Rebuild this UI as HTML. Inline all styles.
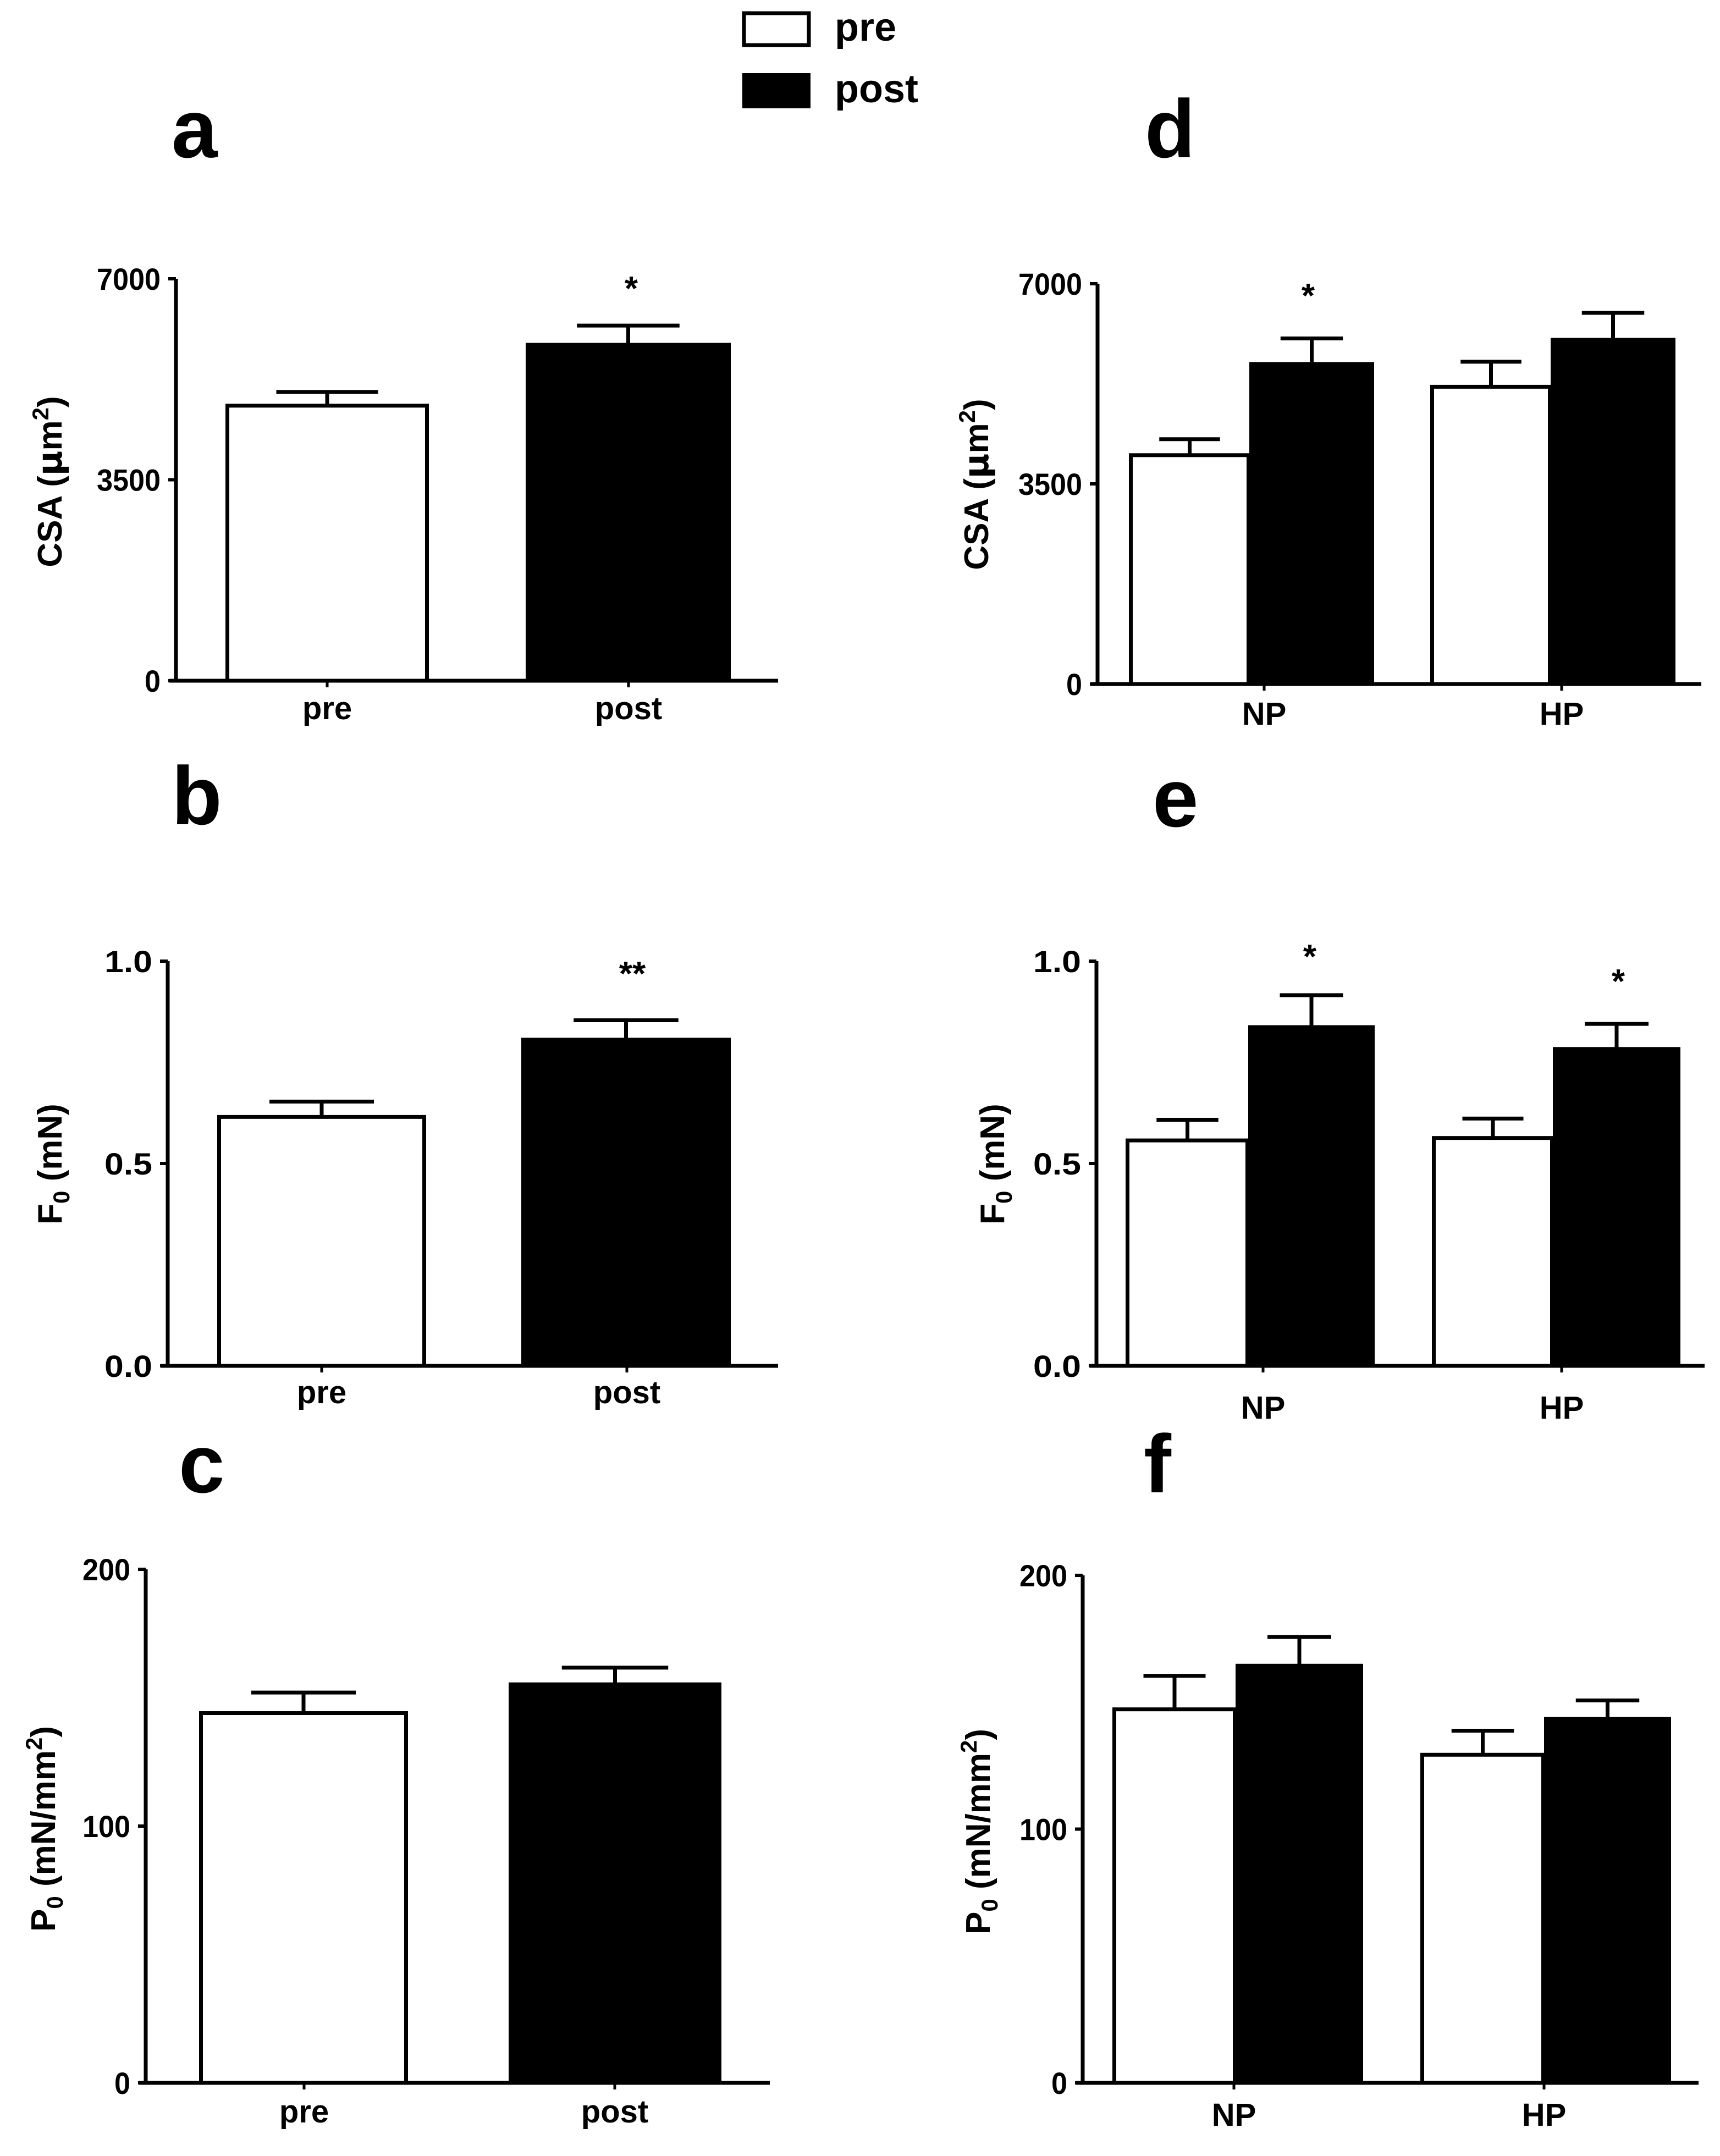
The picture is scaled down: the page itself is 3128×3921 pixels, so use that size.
<!DOCTYPE html>
<html><head><meta charset="utf-8"><style>
html,body{margin:0;padding:0;background:#fff}
svg{display:block}
text{font-family:"Liberation Sans",sans-serif;font-weight:bold;fill:#000}
</style></head><body>
<svg id="fig" width="3128" height="3921" viewBox="0 0 3128 3921" xmlns="http://www.w3.org/2000/svg">
<g>
<rect x="1353" y="24" width="118" height="58" fill="#fff" stroke="#000" stroke-width="7"/>
<text x="1518" y="74" font-size="72">pre</text>
<rect x="1350" y="133" width="124" height="64" fill="#000"/>
<text x="1518" y="186" font-size="72">post</text>
</g>
</svg>
<script>
// Panel a
const aCats=["pre","post"];
const aPre=[4790]; const aPreErr=[240];
const aPost=[5850]; const aPostErr=[335];
const aTicks=[0,3500,7000];
// Panel b
const bCats=["pre","post"];
const bPre=[0.615]; const bPreErr=[0.038];
const bPost=[0.806]; const bPostErr=[0.048];
const bTicks=[0.0,0.5,1.0];
// Panel c
const cCats=["pre","post"];
const cPre=[144.0]; const cPreErr=[8.0];
const cPost=[155.2]; const cPostErr=[6.5];
const cTicks=[0,100,200];
// Panel d
const dCats=["NP","HP"];
const dPre=[4002,5198]; const dPreErr=[279,438];
const dPost=[5597,6019]; const dPostErr=[446,471];
const dTicks=[0,3500,7000];
// Panel e
const eCats=["NP","HP"];
const ePre=[0.557,0.563]; const ePreErr=[0.051,0.048];
const ePost=[0.837,0.783]; const ePostErr=[0.079,0.062];
const eTicks=[0.0,0.5,1.0];
// Panel f
const fCats=["NP","HP"];
const fPre=[147.2,129.3]; const fPreErr=[13.2,9.5];
const fPost=[164.4,143.4]; const fPostErr=[11.3,7.3];
const fTicks=[0,100,200];

const NS="http://www.w3.org/2000/svg";
const svg=document.getElementById('fig');
function mk(tag,attrs,parent){const e=document.createElementNS(NS,tag);for(const k in attrs)e.setAttribute(k,attrs[k]);(parent||svg).appendChild(e);return e;}

function panel(cfg){
  const g=mk('g',{});
  
  
  const yS=v=>cfg.y0-(v-cfg.tMin)/(cfg.tMax-cfg.tMin)*(cfg.y0-cfg.yTop);
  const L=mk('text',{x:cfg.lx,y:cfg.ly,'font-size':150},g);L.textContent=cfg.id;
  
  
  for(let i=0;i<cfg.bars.length;i++){
    const series=[[cfg.pre,cfg.preErr,'#fff','pre'],[cfg.post,cfg.postErr,'#000','post']];
    series.forEach((s,j)=>{
      const x0=cfg.bars[i][j][0],x1=cfg.bars[i][j][1];
      const v=s[0][i],er=s[1][i];
      const top=yS(v),et=yS(v+er),cx=(x0+x1)/2,cw=(x1-x0)*0.5;
      const eb=mk('path',{d:`M${cx},${top} V${et} M${cx-cw/2},${et} H${cx+cw/2}`,stroke:'#000','stroke-width':7,fill:'none'},g);
      
      
      const r=mk('rect',{x:x0+3.5,y:top,width:x1-x0-7,height:cfg.y0-top,fill:s[2],stroke:'#000','stroke-width':7},g);
      
      
    });
  }
  for(let i=0;i<cfg.cats.length;i++){
    const lbl=mk('text',{x:cfg.catX[i],y:cfg.catY,'font-size':58,'text-anchor':'middle'},g);
    lbl.textContent=cfg.cats[i];
    
    
    const ct=mk('line',{x1:cfg.catX[i],x2:cfg.catX[i],y1:cfg.y0,y2:cfg.y0+12,stroke:'#000','stroke-width':5},g);
    
    
  }
  const ya=mk('line',{x1:cfg.ax,x2:cfg.ax,y1:cfg.yTop,y2:cfg.y0+3,stroke:'#000','stroke-width':7},g);
  
  
  const xa=mk('line',{x1:cfg.ax-12,x2:cfg.xEnd,y1:cfg.y0,y2:cfg.y0,stroke:'#000','stroke-width':7},g);
  
  
  cfg.ticks.forEach(t=>{
    const y=yS(t);
    const tk=mk('line',{x1:cfg.ax-14,x2:cfg.ax,y1:y,y2:y,stroke:'#000','stroke-width':6},g);
    
    
    const s=cfg.fmt(t);
    const tl=mk('text',{x:cfg.ax-28,y:y+20,'font-size':56,'text-anchor':'end',textLength:s.length*29,lengthAdjust:'spacingAndGlyphs'},g);
    tl.textContent=s;
    
    
  });
  const tt=mk('text',{x:0,y:0,'font-size':62,'text-anchor':'middle',transform:`translate(${cfg.tx},${cfg.ty}) rotate(-90)`},g);
  tt.innerHTML=cfg.title;
  
  
  (cfg.stars||[]).forEach(st=>{
    const s=mk('text',{x:st[0],y:st[1]+28,'font-size':62,'text-anchor':'middle'},g);
    s.textContent=st[2];
    
    
  });
}
const f0=t=>String(t), f1=t=>t.toFixed(1);
const csa='CSA (<tspan font-family="DejaVu Sans">μ</tspan>m<tspan font-size="42" dy="-24">2</tspan><tspan dy="24">)</tspan>';
const fmn='F<tspan font-size="42" dy="14">0</tspan><tspan dy="-14"> (mN)</tspan>';
const pmn='P<tspan font-size="42" dy="14">0</tspan><tspan dy="-14"> (mN/mm</tspan><tspan font-size="42" dy="-24">2</tspan><tspan dy="24">)</tspan>';

panel({id:'a',cats:aCats,pre:aPre,preErr:aPreErr,post:aPost,postErr:aPostErr,ticks:aTicks,tMin:0,tMax:7000,fmt:f0,
  ax:320,yTop:507,y0:1238,xEnd:1415,bars:[[[410,780],[956,1329]]],catX:[595,1143],catY:1308,
  lx:312,ly:286,title:csa,tx:112,ty:876,stars:[[1148,518,'*']]});
panel({id:'b',cats:bCats,pre:bPre,preErr:bPreErr,post:bPost,postErr:bPostErr,ticks:bTicks,tMin:0,tMax:1,fmt:f1,
  ax:305,yTop:1748,y0:2484,xEnd:1415,bars:[[[395,775],[948,1329]]],catX:[585,1140],catY:2552,
  lx:312,ly:1499,title:fmn,tx:112,ty:2117,stars:[[1150,1764,'**']]});
panel({id:'c',cats:cCats,pre:cPre,preErr:cPreErr,post:cPost,postErr:cPostErr,ticks:cTicks,tMin:0,tMax:200,fmt:f0,
  ax:265,yTop:2854,y0:3788,xEnd:1400,bars:[[[362,742],[925,1312]]],catX:[553,1118],catY:3860,
  lx:325,ly:2714,title:pmn,tx:100,ty:3326,stars:[]});
panel({id:'d',cats:dCats,pre:dPre,preErr:dPreErr,post:dPost,postErr:dPostErr,ticks:dTicks,tMin:0,tMax:7000,fmt:f0,
  ax:1996,yTop:516,y0:1244,xEnd:3094,bars:[[[2053,2274],[2272,2499]],[[2601,2822],[2820,3047]]],catX:[2299,2840],catY:1318,
  lx:2082,ly:286,title:csa,tx:1797,ty:881,stars:[[2379,531,'*']]});
panel({id:'e',cats:eCats,pre:ePre,preErr:ePreErr,post:ePost,postErr:ePostErr,ticks:eTicks,tMin:0,tMax:1,fmt:f1,
  ax:1994,yTop:1748,y0:2484,xEnd:3100,bars:[[[2047,2272],[2270,2500]],[[2604,2826],[2824,3056]]],catX:[2297,2840],catY:2580,
  lx:2096,ly:1503,title:fmn,tx:1826,ty:2117,stars:[[2382,1733,'*'],[2943,1778,'*']]});
panel({id:'f',cats:fCats,pre:fPre,preErr:fPreErr,post:fPost,postErr:fPostErr,ticks:fTicks,tMin:0,tMax:200,fmt:f0,
  ax:1969,yTop:2865,y0:3788,xEnd:3089,bars:[[[2023,2249],[2247,2479]],[[2583,2810],[2808,3039]]],catX:[2244,2808],catY:3866,
  lx:2080,ly:2714,title:pmn,tx:1800,ty:3331,stars:[]});
</script>
</body></html>
